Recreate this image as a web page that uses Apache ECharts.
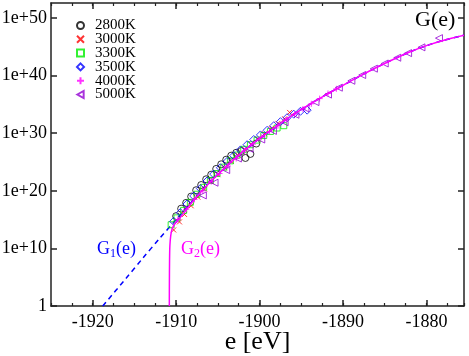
<!DOCTYPE html>
<html>
<head>
<meta charset="utf-8">
<script src="https://cdn.jsdelivr.net/npm/echarts@6/dist/echarts.min.js"></script>
<style>
  html, body { margin: 0; padding: 0; background: #fff; }
  #chart { width: 469px; height: 356px; }
</style>
</head>
<body>
<div id="chart"></div>
<script>
// y values are log10(G), axis labels turn them back into 1e+N
const majorX = [-1920, -1910, -1900, -1890, -1880];
const yTicks = [0, 10, 20, 30, 40, 50];

// G1(e): dashed fit
const g1 = [
  [-1918.8, 0], [-1916, 4.8], [-1914, 8.3], [-1912, 11.7], [-1910, 15.0],
  [-1908, 18.3], [-1906, 21.4], [-1904, 24.2], [-1902, 26.8], [-1900, 29.1],
  [-1898, 31.2], [-1896, 33.2], [-1894, 35.0], [-1892, 36.7], [-1890, 38.3],
  [-1888, 39.9], [-1886, 41.4], [-1884, 42.8], [-1882, 44.1], [-1880, 45.2],
  [-1878, 46.1], [-1875.5, 47.0]
];
// G2(e): solid, vertical onset near -1910.8
const g2 = [
  [-1910.82, 0], [-1910.81, 4], [-1910.79, 8], [-1910.75, 10.5], [-1910.65, 12.2],
  [-1910.5, 13.3], [-1910.2, 14.2], [-1909.6, 15.2], [-1909, 16.3], [-1908, 18.2],
  [-1906, 21.4], [-1904, 24.2], [-1902, 26.8], [-1900, 29.1],
  [-1898, 31.2], [-1896, 33.2], [-1894, 35.0], [-1892, 36.7], [-1890, 38.3],
  [-1888, 39.9], [-1886, 41.4], [-1884, 42.8], [-1882, 44.1], [-1880, 45.2],
  [-1878, 46.1], [-1875.5, 47.0]
];

const t2800 = [
  [-1910.0, 15.6], [-1909.4, 16.9], [-1908.8, 17.9], [-1908.2, 19.0], [-1907.6, 20.1],
  [-1907.0, 21.0], [-1906.4, 22.0], [-1905.8, 22.8], [-1905.2, 23.8], [-1904.6, 24.6],
  [-1904.0, 25.4], [-1903.4, 26.1], [-1902.8, 26.6], [-1902.2, 26.9], [-1901.7, 25.7],
  [-1901.1, 26.4], [-1900.4, 28.2]
];
const t3000 = [
  [-1910.3, 13.2], [-1909.6, 14.6], [-1909.0, 15.9], [-1908.2, 17.4], [-1907.4, 18.9],
  [-1906.6, 20.3], [-1905.8, 21.6], [-1905.0, 22.8], [-1904.2, 24.0], [-1903.4, 25.1],
  [-1902.6, 26.2], [-1901.8, 27.2], [-1901.0, 28.1], [-1900.2, 29.0], [-1899.4, 29.9],
  [-1898.6, 30.8], [-1897.8, 31.7], [-1897.0, 32.5], [-1896.4, 33.6]
];
const t3300 = [
  [-1910.6, 14.1], [-1909.9, 15.3], [-1909.1, 16.6], [-1908.3, 18.0], [-1907.5, 19.4],
  [-1906.7, 20.6], [-1905.9, 21.8], [-1905.1, 23.0], [-1904.3, 24.1], [-1903.5, 25.2],
  [-1902.7, 26.2], [-1901.9, 27.2], [-1901.1, 28.0], [-1900.3, 28.8], [-1899.5, 29.6],
  [-1898.7, 30.3], [-1897.9, 30.9], [-1897.1, 31.3]
];
const t3500 = [
  [-1910.3, 14.7], [-1909.5, 16.2], [-1908.7, 17.7], [-1907.9, 19.1], [-1907.1, 20.4],
  [-1906.3, 21.7], [-1905.5, 22.9], [-1904.7, 24.0], [-1903.9, 25.1], [-1903.1, 26.1],
  [-1902.3, 27.1], [-1901.5, 28.0], [-1900.7, 28.9], [-1899.9, 29.7], [-1899.1, 30.5],
  [-1898.3, 31.3], [-1897.5, 32.0], [-1896.7, 32.7], [-1895.9, 33.3], [-1895.1, 33.8],
  [-1894.3, 34.0]
];
const t4000 = [
  [-1909.8, 15.0], [-1908.8, 16.8], [-1907.8, 18.5], [-1906.8, 20.0], [-1905.8, 21.6],
  [-1904.8, 23.0], [-1903.8, 24.3], [-1902.8, 25.6], [-1901.8, 26.9], [-1900.8, 28.1],
  [-1899.8, 29.3], [-1898.8, 30.3], [-1897.8, 31.3], [-1896.8, 32.3], [-1895.8, 33.3],
  [-1894.8, 34.2], [-1893.8, 35.1], [-1892.8, 36.0], [-1891.8, 36.9], [-1890.8, 37.7]
];
const t5000 = [
  [-1906.8, 19.2], [-1905.4, 21.4], [-1904.0, 23.6], [-1902.6, 25.6], [-1901.2, 27.3],
  [-1899.8, 28.9], [-1898.4, 30.4], [-1897.0, 31.9], [-1895.7, 33.2], [-1894.5, 34.3],
  [-1893.3, 35.4], [-1891.8, 36.7], [-1890.5, 37.9], [-1889.0, 39.1], [-1887.7, 40.1],
  [-1886.3, 41.2], [-1885.0, 42.1], [-1883.5, 43.1], [-1882.2, 43.9], [-1880.6, 44.9],
  [-1878.5, 46.5]
];

const serif = 'Liberation Serif, Times New Roman, serif';
const axisColor = '#222';

const chart = echarts.init(document.getElementById('chart'));

function xAx(pos, major) {
  return {
    type: 'value', position: pos, min: -1925, max: -1875.5, interval: 2.5,
    axisLine: { show: !major, onZero: false, lineStyle: { color: axisColor, width: 1.5 } },
    axisTick: major
      ? { show: true, inside: true, length: 6, customValues: majorX, lineStyle: { color: axisColor, width: 1.5 } }
      : { show: true, inside: true, length: 3, lineStyle: { color: axisColor, width: 1.2 } },
    axisLabel: (pos === 'bottom' && !major) ? {
      show: true, color: '#000', fontFamily: serif, fontSize: 18, margin: 7,
      formatter: v => (v % 10 === 0 ? String(v) : '')
    } : { show: false },
    splitLine: { show: false },
    name: (pos === 'bottom' && !major) ? 'e [eV]' : '',
    nameLocation: 'middle', nameGap: 23, nameMoveOverlap: false,
    nameTextStyle: { color: '#000', fontFamily: serif, fontSize: 26 }
  };
}

function yAx(pos) {
  return {
    type: 'value', position: pos, min: 0, max: 52.6, interval: 10,
    axisLine: { show: true, onZero: false, lineStyle: { color: axisColor, width: 1.5 } },
    axisTick: { show: true, inside: true, length: 6, customValues: yTicks, lineStyle: { color: axisColor, width: 1.5 } },
    axisLabel: pos === 'left' ? {
      show: true, color: '#000', fontFamily: serif, fontSize: 18, margin: 4,
      customValues: yTicks,
      formatter: v => (v === 0 ? '1' : '1e+' + v)
    } : { show: false },
    splitLine: { show: false }
  };
}

function pts(name, data, symbol, size, color) {
  return {
    name: name, type: 'scatter', data: data, symbol: symbol, symbolSize: size,
    xAxisIndex: 0, yAxisIndex: 0,
    itemStyle: { color: 'transparent', borderColor: color, borderWidth: 1 }
  };
}

chart.setOption({
  animation: false,
  grid: { left: 51, right: 5, top: 3, bottom: 50, containLabel: false, outerBoundsMode: 'none' },
  xAxis: [xAx('bottom', false), xAx('bottom', true), xAx('top', false), xAx('top', true)],
  yAxis: [yAx('left'), yAx('right')],
  legend: {
    orient: 'vertical', left: 76, top: 18, padding: 0,
    itemWidth: 7, itemHeight: 7, itemGap: -1.2,
    data: ['2800K', '3000K', '3300K', '3500K', '4000K', '5000K'],
    textStyle: { color: '#000', fontFamily: serif, fontSize: 15, lineHeight: 12, padding: [0, 0, 0, 6] }
  },
  graphic: [
    { type: 'text', left: 415, top: 9, style: { text: 'G(e)', fill: '#000', font: '22px ' + serif } },
    {
      type: 'text', left: 97, top: 240,
      style: {
        text: '{a|G}{s|1}{a|(e)}', fill: '#0000ff',
        rich: { a: { fontSize: 18, fontFamily: serif, fill: '#0000ff' }, s: { fontSize: 12, fontFamily: serif, fill: '#0000ff', padding: [9, 0, 0, 0] } }
      }
    },
    {
      type: 'text', left: 181, top: 240,
      style: {
        text: '{a|G}{s|2}{a|(e)}', fill: '#ff00ff',
        rich: { a: { fontSize: 18, fontFamily: serif, fill: '#ff00ff' }, s: { fontSize: 12, fontFamily: serif, fill: '#ff00ff', padding: [9, 0, 0, 0] } }
      }
    }
  ],
  series: [
    {
      name: 'G1', type: 'line', data: g1, showSymbol: false, smooth: 0.3,
      lineStyle: { color: '#0000ff', width: 1.5, type: [5, 4] }, z: 1
    },
    pts('2800K', t2800, 'circle', 7, '#000000'),
    pts('3000K', t3000, 'path://M0,0 L10,10 M10,0 L0,10', 5, '#ff0000'),
    pts('3300K', t3300, 'rect', 6, '#00ee00'),
    pts('3500K', t3500, 'diamond', 8, '#0000ff'),
    pts('4000K', t4000, 'path://M5,0 L5,10 M0,5 L10,5', 6, '#ff00ff'),
    pts('5000K', t5000, 'path://M0,5 L9,0 L9,10 Z', 7, '#9400d3'),
    {
      name: 'G2', type: 'line', data: g2, showSymbol: false, smooth: 0.3,
      lineStyle: { color: '#ff00ff', width: 1.5 }, z: 5
    }
  ]
});
</script>
</body>
</html>
